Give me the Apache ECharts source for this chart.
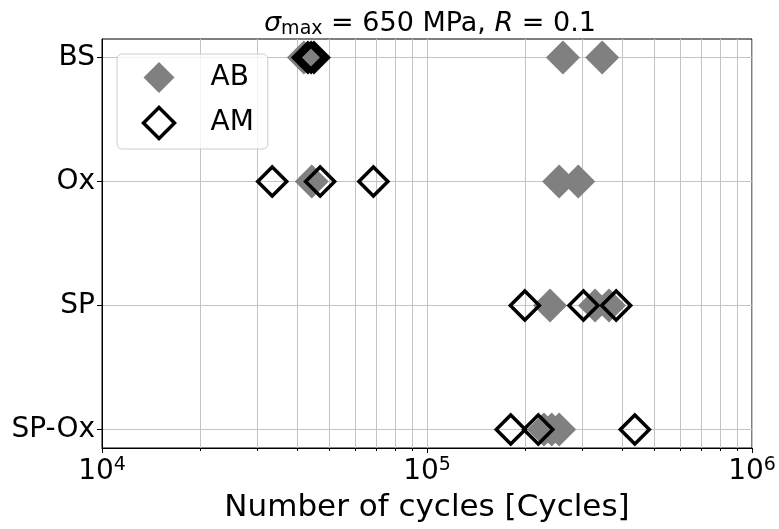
<!DOCTYPE html>
<html>
<head>
<meta charset="utf-8">
<script src="https://cdn.jsdelivr.net/npm/echarts@6/dist/echarts.min.js"></script>
<style>
    html, body { margin: 0; padding: 0; background: #fff; }
    #main { width: 779px; height: 529px; }
</style>
</head>
<body>
<div id="main"></div>
<script>
//行标签（从上到下）
let categories = ['BS', 'Ox', 'SP', 'SP-Ox']
//AB 循环次数，每行三个
let abCycles = [
    [41800, 262000, 346000],
    [44200, 255000, 292000],
    [239000, 329000, 363000],
    [229000, 242000, 255000]
]
//AM 循环次数
let amCycles = [
    [43000, 44000, 44900],
    [33400, 46900, 68400],
    [200000, 303000, 382000],
    [181000, 220000, 436000]
]
//x 轴次刻度
let minorTicks = [2e4, 3e4, 4e4, 5e4, 6e4, 7e4, 8e4, 9e4, 2e5, 3e5, 4e5, 5e5, 6e5, 7e5, 8e5, 9e5]
let rowTicks = [0, 1, 2, 3]

let font = 'DejaVu Sans'
let gridColor = '#c4c4c4'

//把二维数组转成散点数据
function toPoints(rows){
    let arr = []
    rows.forEach((row, i) => {
        row.forEach(v => {
            arr.push([v, i])
        })
    })
    return arr
}

let myChart = echarts.init(document.getElementById('main'))
let option = {
    backgroundColor: '#fff',
    animation: false,
    title: {
        text: '{i|σ}{sub|max}{n| = 650 MPa, }{i|R}{n| = 0.1}',
        left: 425,
        textAlign: 'center',
        top: 4,
        textStyle: {
            fontWeight: 'normal',
            rich: {
                n: { fontFamily: font, fontSize: 27, fontWeight: 'normal', color: '#000' },
                i: { fontFamily: font, fontSize: 27, fontWeight: 'normal', fontStyle: 'italic', color: '#000' },
                sub: { fontFamily: font, fontSize: 19, fontWeight: 'normal', color: '#000', padding: [11, 0, 0, 0] }
            }
        }
    },
    legend: {
        orient: 'vertical',
        left: 117,
        top: 54,
        itemWidth: 31,
        itemHeight: 31,
        itemGap: 12,
        padding: [8, 14, 8, 24],
        backgroundColor: 'rgba(255,255,255,0.8)',
        borderColor: '#cccccc',
        borderWidth: 1,
        borderRadius: 5,
        formatter: '{t|{name}}',
        textStyle: {
            rich: {
                t: { fontFamily: font, fontSize: 28, color: '#000', padding: [0, 0, 0, 31] }
            }
        },
        data: [
            { name: 'AB', icon: 'diamond', itemStyle: { color: '#808080' } },
            { name: 'AM', icon: 'diamond', itemStyle: { color: 'none', borderColor: '#000', borderWidth: 3.5 } }
        ]
    },
    grid: {
        left: 102,
        right: 27,
        top: 39,
        bottom: 81,
        show: true,
        borderColor: '#000',
        borderWidth: 1,
        backgroundColor: 'transparent'
    },
    xAxis: [
        {
            type: 'log',
            logBase: 10,
            min: 1e4,
            max: 1e6,
            position: 'bottom',
            name: 'Number of cycles [Cycles]',
            nameLocation: 'middle',
            nameGap: 44,
            nameTextStyle: { fontFamily: font, fontSize: 31, color: '#000' },
            axisLine: { show: true, onZero: false, lineStyle: { color: '#000', width: 1 } },
            axisTick: { show: true, length: 5, lineStyle: { color: '#000' } },
            axisLabel: {
                margin: 8,
                formatter: function(v){
                    let e = Math.round(Math.log10(v))
                    return '{b|10}{s|' + e + '}'
                },
                rich: {
                    b: { fontFamily: font, fontSize: 28, color: '#000' },
                    s: { fontFamily: font, fontSize: 19, color: '#000', padding: [0, 0, 12, 0] }
                }
            },
            splitLine: { show: true, lineStyle: { color: gridColor, width: 1 } }
        },
        {
            type: 'log',
            logBase: 10,
            min: 1e4,
            max: 1e6,
            position: 'bottom',
            axisLine: { show: false, onZero: false },
            axisTick: { show: true, length: 3, customValues: minorTicks, lineStyle: { color: '#000' } },
            axisLabel: { show: false },
            splitLine: { show: true, lineStyle: { color: gridColor, width: 1 } }
        }
    ],
    yAxis: {
        type: 'value',
        min: -0.15,
        max: 3.15,
        inverse: true,
        axisLine: { show: true, onZero: false, lineStyle: { color: '#000', width: 1 } },
        axisTick: { show: true, length: 5, customValues: rowTicks, lineStyle: { color: '#000' } },
        axisLabel: {
            customValues: rowTicks,
            margin: 7,
            fontFamily: font,
            fontSize: 28,
            color: '#000',
            formatter: function(v){
                return categories[Math.round(v)]
            }
        },
        splitLine: { show: true, lineStyle: { color: gridColor, width: 1 } }
    },
    series: [
        {
            name: 'AB',
            type: 'scatter',
            symbol: 'diamond',
            symbolSize: 34,
            itemStyle: { color: '#808080', opacity: 1 },
            data: toPoints(abCycles),
            z: 3
        },
        {
            name: 'AM',
            type: 'scatter',
            symbol: 'diamond',
            symbolSize: 29,
            itemStyle: { color: 'none', borderColor: '#000', borderWidth: 3.5, opacity: 1 },
            data: toPoints(amCycles),
            z: 4
        }
    ]
}
myChart.setOption(option)
</script>
</body>
</html>
